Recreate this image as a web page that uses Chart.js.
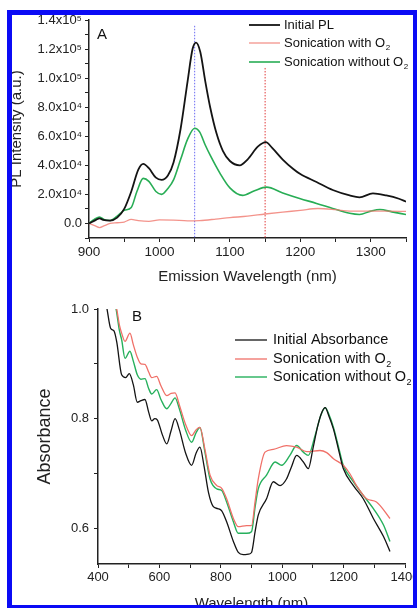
<!DOCTYPE html>
<html>
<head>
<meta charset="utf-8">
<script src="https://cdn.jsdelivr.net/npm/chart.js@4.4.1/dist/chart.umd.min.js"></script>
<style>
  html, body { margin: 0; padding: 0; background: #fff; overflow: hidden; }
  body { width: 417px; height: 608px; position: relative; }
  #chartA { position: absolute; left: 0; top: 0; }
  #chartB { position: absolute; left: 0; top: 292px; }
  #marco {
    position: absolute; left: 7px; top: 10px; width: 411px; height: 600px;
    box-sizing: border-box; border: 5px solid #0b0bf5; pointer-events: none; z-index: 2;
  }
</style>
</head>
<body>
<canvas id="chartA" width="417" height="292"></canvas>
<canvas id="chartB" width="417" height="330"></canvas>
<div id="marco"></div>
<script>
// ---- Panel A: PL spectra ----
const wlInitialPL = [900, 910, 915, 920, 930, 940, 950, 960, 970, 977, 985, 995, 1003, 1012, 1020, 1030, 1040, 1047, 1052, 1058, 1065, 1072, 1081, 1090, 1100, 1114, 1125, 1140, 1151, 1160, 1175, 1190, 1200, 1223, 1246, 1270, 1284, 1303, 1322, 1340, 1350];
const initialPL = [0, 2500, 3500, 2500, 2000, 4000, 10000, 22000, 37000, 41000, 38000, 31500, 30000, 33000, 42000, 65000, 98000, 120000, 124500, 118000, 98000, 80000, 62000, 50000, 43000, 40000, 44000, 53000, 56000, 52000, 44000, 37500, 34000, 28500, 23000, 19300, 18000, 20700, 19300, 17000, 15000];

const wlWithO2PL = [900, 908, 915, 922, 930, 940, 950, 960, 970, 985, 1000, 1020, 1040, 1057, 1080, 1100, 1125, 1150, 1175, 1200, 1225, 1250, 1270, 1300, 1325, 1350];
const withO2PL = [0, -1500, -2800, -1500, 0, 500, 1000, 2800, 2000, 1500, 2500, 2300, 1800, 2000, 3000, 4000, 5000, 6500, 7800, 9000, 10300, 9500, 8500, 8500, 8500, 8300];

const wlWithoutO2PL = [900, 908, 915, 922, 930, 940, 950, 960, 968, 977, 985, 995, 1003, 1012, 1020, 1030, 1040, 1050, 1057, 1065, 1072, 1086, 1100, 1118, 1135, 1152, 1175, 1199, 1223, 1246, 1270, 1284, 1300, 1313, 1330, 1350];
const withoutO2PL = [0, 3000, 4500, 2500, 2000, 5000, 9000, 11000, 22000, 31000, 29000, 22000, 20000, 24000, 30000, 44000, 58000, 65500, 63000, 54000, 47000, 34500, 24500, 19300, 22500, 25000, 21000, 17200, 13800, 10300, 7000, 6200, 8500, 9600, 8000, 6200];

const labelsA = ['Initial PL', 'Sonication with O₂', 'Sonication without O₂'];
const markerBlue = { wl: 1050, from: 136000, to: -10000 };
const markerRed = { wl: 1150, from: 107000, to: -10000 };

// ---- Panel B: absorbance ----
const wlInitialAbs = [420, 430, 441, 452, 461, 477, 490, 502, 515, 528, 540, 553, 565, 575, 585, 593, 610, 624, 638, 651, 665, 685, 705, 720, 732, 745, 760, 775, 790, 803, 819, 841, 857, 873, 890, 900, 912, 922, 949, 971, 993, 1014, 1030, 1047, 1069, 1085, 1100, 1115, 1128, 1140, 1152, 1167, 1185, 1199, 1232, 1264, 1297, 1330, 1351];
const initialAbs = [1.03, 0.998, 0.965, 0.960, 0.940, 0.880, 0.875, 0.882, 0.862, 0.830, 0.833, 0.835, 0.812, 0.796, 0.800, 0.798, 0.770, 0.754, 0.778, 0.800, 0.780, 0.738, 0.715, 0.738, 0.748, 0.715, 0.665, 0.640, 0.636, 0.632, 0.612, 0.576, 0.556, 0.552, 0.553, 0.556, 0.595, 0.624, 0.654, 0.685, 0.678, 0.690, 0.712, 0.733, 0.721, 0.709, 0.745, 0.785, 0.810, 0.820, 0.805, 0.781, 0.740, 0.709, 0.678, 0.654, 0.618, 0.585, 0.558];

const wlWithO2Abs = [452, 461, 470, 477, 488, 504, 515, 528, 540, 553, 565, 575, 591, 605, 624, 638, 651, 665, 685, 705, 720, 732, 748, 765, 787, 803, 819, 841, 857, 884, 900, 912, 922, 944, 971, 1014, 1047, 1080, 1123, 1145, 1167, 1199, 1220, 1242, 1275, 1307, 1351];
const withO2Abs = [1.02, 1.0, 0.970, 0.956, 0.941, 0.956, 0.935, 0.912, 0.900, 0.899, 0.885, 0.875, 0.877, 0.860, 0.842, 0.846, 0.847, 0.825, 0.790, 0.769, 0.780, 0.784, 0.745, 0.697, 0.678, 0.673, 0.654, 0.618, 0.603, 0.605, 0.605, 0.650, 0.690, 0.739, 0.744, 0.751, 0.748, 0.740, 0.742, 0.738, 0.727, 0.715, 0.700, 0.678, 0.654, 0.648, 0.618];

const wlWithoutO2Abs = [450, 459, 470, 477, 488, 504, 515, 528, 540, 553, 565, 575, 591, 605, 624, 638, 651, 665, 685, 705, 720, 732, 748, 765, 787, 803, 819, 841, 857, 884, 900, 912, 922, 949, 977, 998, 1025, 1047, 1069, 1085, 1107, 1125, 1140, 1152, 1167, 1185, 1199, 1232, 1264, 1297, 1330, 1351];
const withoutO2Abs = [1.02, 1.0, 0.960, 0.944, 0.910, 0.923, 0.905, 0.880, 0.872, 0.873, 0.855, 0.845, 0.853, 0.835, 0.818, 0.828, 0.838, 0.818, 0.780, 0.757, 0.775, 0.784, 0.740, 0.690, 0.672, 0.669, 0.648, 0.612, 0.591, 0.591, 0.594, 0.640, 0.672, 0.697, 0.721, 0.715, 0.733, 0.751, 0.739, 0.733, 0.769, 0.805, 0.820, 0.808, 0.784, 0.745, 0.715, 0.685, 0.660, 0.636, 0.606, 0.576];

const labelsB = ['Initial Absorbance', 'Sonication with O₂', 'Sonication without O₂'];

const FUENTE = '"Liberation Sans", Arial, sans-serif';
const puntos = (xs, ys) => xs.map((x, i) => ({ x: x, y: ys[i] }));

const serie = (label, xs, ys, color, ancho) => ({
    label: label,
    data: puntos(xs, ys),
    borderColor: color,
    borderWidth: ancho,
    pointRadius: 0,
    fill: false,
    cubicInterpolationMode: 'monotone'
});

const marcador = (m, color) => ({
    label: '',
    data: [{ x: m.wl, y: m.from }, { x: m.wl, y: m.to }],
    borderColor: color,
    borderWidth: 1,
    borderDash: [1.5, 1.5],
    pointRadius: 0,
    tension: 0
});

// texto con subindice para O2
const textoLeyenda = (ctx, texto, x, y, size) => {
    const sub = texto.endsWith('₂');
    const base = sub ? texto.slice(0, -1) : texto;
    ctx.font = `${size}px ${FUENTE}`;
    ctx.fillText(base, x, y);
    if (sub) {
        const w = ctx.measureText(base).width;
        ctx.font = `${Math.round(size * 0.6)}px ${FUENTE}`;
        ctx.fillText('2', x + w + 0.5, y + size * 0.38);
    }
};

const decorado = {
    id: 'decorado',
    afterDraw(chart, args, op) {
        const ctx = chart.ctx;
        ctx.save();
        ctx.fillStyle = '#111';
        ctx.textAlign = 'center';
        ctx.textBaseline = 'middle';
        ctx.font = `${op.letraSize}px ${FUENTE}`;
        ctx.fillText(op.letra, op.letraX, op.letraY);
        ctx.textAlign = 'left';
        op.filas.forEach((y, i) => {
            const ds = chart.data.datasets[i];
            ctx.strokeStyle = ds.borderColor;
            ctx.lineWidth = ds.borderWidth;
            ctx.beginPath();
            ctx.moveTo(op.lineaX0, y);
            ctx.lineTo(op.lineaX1, y);
            ctx.stroke();
            ctx.fillStyle = '#111';
            textoLeyenda(ctx, ds.label, op.textoX, y, op.textoSize);
        });
        ctx.restore();
    }
};

const ejeX = (min, max, paso, etiqueta, titulo, alto, tickSize, tituloSize, padTitulo) => ({
    type: 'linear',
    min: min,
    max: max,
    grid: { drawOnChartArea: false, drawTicks: true, tickLength: 4, color: '#222' },
    border: { color: '#222', width: 1.5 },
    ticks: {
        stepSize: paso,
        autoSkip: false,
        maxRotation: 0,
        padding: 2,
        color: '#222',
        font: { family: FUENTE, size: tickSize },
        callback: v => (v % etiqueta === 0 ? String(v) : '')
    },
    title: { display: true, text: titulo, color: '#222', font: { family: FUENTE, size: tituloSize }, padding: { top: 0, bottom: padTitulo } },
    afterFit: s => { s.height = alto; s.paddingLeft = 0; s.paddingRight = 0; }
});

// ---- Chart A ----
new Chart(document.getElementById('chartA'), {
    type: 'line',
    data: {
        datasets: [
            serie(labelsA[0], wlInitialPL, initialPL, '#141414', 1.8),
            serie(labelsA[1], wlWithO2PL, withO2PL, 'rgba(240,120,110,0.8)', 1.3),
            serie(labelsA[2], wlWithoutO2PL, withoutO2PL, '#28ad55', 1.6),
            marcador(markerBlue, '#6a6af2'),
            marcador(markerRed, '#e03a3a')
        ]
    },
    plugins: [decorado],
    options: {
        responsive: false,
        animation: false,
        layout: { padding: { left: 0, right: 11, top: 20, bottom: 0 } },
        plugins: {
            legend: { display: false },
            tooltip: { enabled: false },
            decorado: {
                letra: 'A', letraX: 102, letraY: 35, letraSize: 15,
                filas: [25, 43, 62], lineaX0: 249, lineaX1: 280, textoX: 284, textoSize: 13
            }
        },
        scales: {
            x: ejeX(900, 1350, 50, 100, 'Emission Wavelength (nm)', 54, 13.5, 15, 6),
            y: {
                min: -10000,
                max: 140000,
                grid: { drawOnChartArea: false, drawTicks: true, tickLength: 4, color: '#222' },
                border: { color: '#222', width: 1.5 },
                ticks: {
                    stepSize: 10000,
                    autoSkip: false,
                    padding: 3,
                    color: '#222',
                    font: { family: FUENTE, size: 13 },
                    callback: v => {
                        if (v % 20000 !== 0) return '';
                        if (v === 0) return '0.0';
                        if (v < 100000) return (v / 10000).toFixed(1) + 'x10⁴';
                        return (v / 100000).toFixed(1) + 'x10⁵';
                    }
                },
                title: { display: true, text: 'PL Intensity (a.u.)', color: '#222', font: { family: FUENTE, size: 15 }, padding: { top: 8, bottom: 0 } },
                afterFit: s => { s.width = 89; s.paddingTop = 0; s.paddingBottom = 0; }
            }
        }
    }
});

// ---- Chart B ----
new Chart(document.getElementById('chartB'), {
    type: 'line',
    data: {
        datasets: [
            serie(labelsB[0], wlInitialAbs, initialAbs, '#141414', 1.3),
            serie(labelsB[1], wlWithO2Abs, withO2Abs, '#f07068', 1.3),
            serie(labelsB[2], wlWithoutO2Abs, withoutO2Abs, '#26b05c', 1.4)
        ]
    },
    plugins: [decorado],
    options: {
        responsive: false,
        animation: false,
        layout: { padding: { left: 0, right: 12, top: 17, bottom: 0 } },
        plugins: {
            legend: { display: false },
            tooltip: { enabled: false },
            decorado: {
                letra: 'B', letraX: 137, letraY: 25, letraSize: 15,
                filas: [48, 67, 85], lineaX0: 235, lineaX1: 267, textoX: 273, textoSize: 14.5
            }
        },
        scales: {
            x: ejeX(400, 1400, 100, 200, 'Wavelength (nm)', 58, 13, 15, 9),
            y: {
                min: 0.535,
                max: 1.0,
                grid: { drawOnChartArea: false, drawTicks: true, tickLength: 4, color: '#222' },
                border: { color: '#222', width: 1.5 },
                ticks: {
                    stepSize: 0.1,
                    autoSkip: false,
                    padding: 5,
                    color: '#222',
                    font: { family: FUENTE, size: 13 },
                    callback: v => (Math.round(v * 10) % 2 === 0 ? v.toFixed(1) : '')
                },
                afterBuildTicks: s => {
                    s.ticks = s.ticks.filter(t => Math.abs(t.value * 10 - Math.round(t.value * 10)) < 1e-6);
                },
                title: { display: true, text: 'Absorbance', color: '#222', font: { family: FUENTE, size: 18 }, padding: { top: 34, bottom: 0 } },
                afterFit: s => { s.width = 98; s.paddingTop = 0; s.paddingBottom = 0; }
            }
        }
    }
});
</script>
</body>
</html>
